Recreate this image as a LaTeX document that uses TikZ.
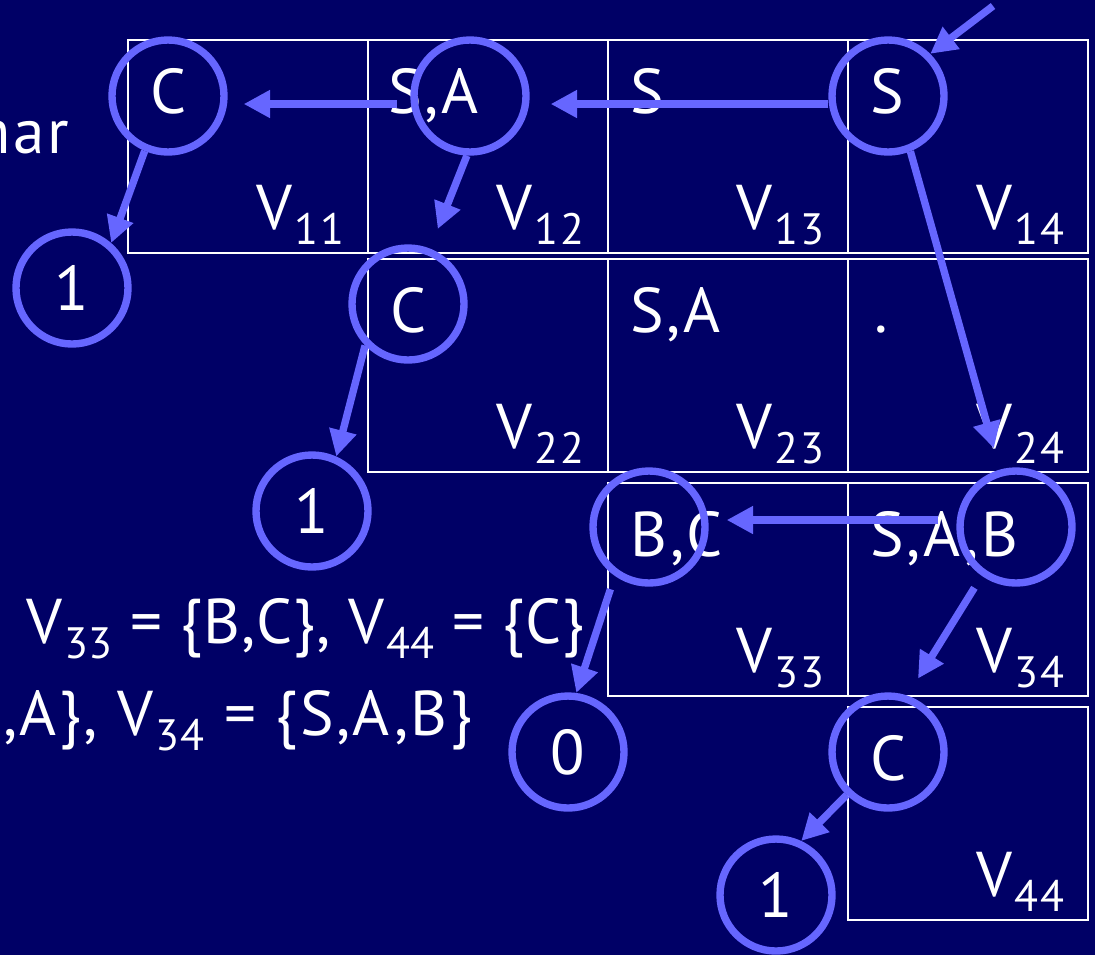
\documentclass[tikz,border=0pt]{standalone}
\usepackage{fontspec}
\setmainfont{PT Sans}[LetterSpace=4]
\usepackage{xcolor}
\usetikzlibrary{positioning,calc,arrows.meta}
\definecolor{slidenavy}{RGB}{0,0,102}
\definecolor{ringblue}{RGB}{102,102,255}
\newcommand{\Vsub}[1]{V\kern0.5pt\raisebox{-4.3pt}{\fontsize{12.5}{12.5}\selectfont #1}}

\begin{document}
\begin{tikzpicture}[>={Triangle[length=7.5pt,width=7.5pt]},
    font=\fontsize{18}{21}\selectfont,
    cell/.style={draw=white, line width=0.6pt, minimum width=2.4cm, minimum height=2.13cm, inner sep=0pt, outer sep=0pt},
    entry/.style={anchor=base west, text=white, inner sep=0pt},
    vlab/.style={anchor=base east, text=white, inner sep=0pt},
    ring/.style={circle, draw=ringblue, line width=2.1pt, minimum size=1.12cm, inner sep=0pt, text=white},
    link/.style={->, draw=ringblue, line width=2.1pt}]
    \useasboundingbox (0,0) rectangle (10.95,-9.55);
    \clip (0,0) rectangle (10.95,-9.55);
    \fill[slidenavy] (0,0) rectangle (10.95,-9.55);

    % The table of sets, one cell per V_ij
    \node[cell, anchor=north west] (v11) at (1.28,-0.40) {};
    \node[cell, right=0pt of v11] (v12) {};
    \node[cell, right=0pt of v12] (v13) {};
    \node[cell, right=0pt of v13] (v14) {};
    \node[cell, below=0.06cm of v12] (v22) {};
    \node[cell, right=0pt of v22] (v23) {};
    \node[cell, right=0pt of v23] (v24) {};
    \node[cell, below=0.11cm of v23] (v33) {};
    \node[cell, right=0pt of v33] (v34) {};
    \node[cell, below=0.11cm of v34] (v44) {};

    % Contents of the cells
    \node[entry] (t11) at ($(v11.north west)+(0.22,-0.73)$) {C};
    \node[entry] (t12) at ($(v12.north west)+(0.20,-0.73)$) {S,A};
    \node[entry] (t13) at ($(v13.north west)+(0.22,-0.73)$) {S};
    \node[entry] (t14) at ($(v14.north west)+(0.22,-0.73)$) {S};
    \node[entry] (t22) at ($(v22.north west)+(0.22,-0.73)$) {C};
    \node[entry] (t23) at ($(v23.north west)+(0.22,-0.73)$) {S,A};
    \node[entry] (t24) at ($(v24.north west)+(0.26,-0.73)$) {.};
    \node[entry] (t33) at ($(v33.north west)+(0.22,-0.73)$) {B,C};
    \node[entry] (t34) at ($(v34.north west)+(0.22,-0.73)$) {S,A,B};
    \node[entry] (t44) at ($(v44.north west)+(0.22,-0.73)$) {C};

    % Cell names, bottom right
    \node[vlab] (l11) at ($(v11.south east)+(-0.23,0.24)$) {\Vsub{11}};
    \node[vlab] (l12) at ($(v12.south east)+(-0.23,0.24)$) {\Vsub{12}};
    \node[vlab] (l13) at ($(v13.south east)+(-0.23,0.24)$) {\Vsub{13}};
    \node[vlab] (l14) at ($(v14.south east)+(-0.23,0.24)$) {\Vsub{14}};
    \node[vlab] (l22) at ($(v22.south east)+(-0.23,0.24)$) {\Vsub{22}};
    \node[vlab] (l23) at ($(v23.south east)+(-0.23,0.24)$) {\Vsub{23}};
    \node[vlab] (l24) at ($(v24.south east)+(-0.23,0.24)$) {\Vsub{24}};
    \node[vlab] (l33) at ($(v33.south east)+(-0.23,0.24)$) {\Vsub{33}};
    \node[vlab] (l34) at ($(v34.south east)+(-0.23,0.24)$) {\Vsub{34}};
    \node[vlab] (l44) at ($(v44.south east)+(-0.23,0.24)$) {\Vsub{44}};

    % Text on the left, cut by the frame
    \node[vlab] (gram) at (0.70,-1.53) {mar};
    \node[entry] (setA) at (0.26,-6.43) {\addfontfeatures{LetterSpace=1.5}\Vsub{33} = \{B,C\}, \Vsub{44} = \{C\}};
    \node[vlab] (setB) at (4.73,-7.35) {S,A\}, \Vsub{34} = \{S,A,B\}};

    % Circles of the parse tree
    \node[ring] (rC11) at (1.68,-0.96) {};
    \node[ring] (rSA12) at (4.70,-0.96) {};
    \node[ring] (rS14) at (8.88,-0.96) {};
    \node[ring] (rC22) at (4.08,-3.04) {};
    \node[ring] (rBC33) at (6.49,-5.27) {};
    \node[ring] (rSAB34) at (10.16,-5.27) {};
    \node[ring] (rC44) at (8.88,-7.52) {};
    \node[ring] (rOneA) at (0.72,-2.88) {1};
    \node[ring] (rOneB) at (3.12,-5.11) {1};
    \node[ring] (rZero) at (5.68,-7.52) {0};
    \node[ring] (rOneC) at (7.76,-8.95) {1};
    \coordinate (start) at (9.93,-0.06);

    % Edges
    \draw[link] (start) -- (rS14.45);
    \draw[link, shorten >=0.21cm] ([yshift=-0.08cm]rS14.west) -- ([yshift=-0.08cm]rSA12.east);
    \draw[link, shorten >=0.16cm] ([xshift=-0.13cm,yshift=-0.08cm]rSA12.west) -- ([yshift=-0.08cm]rC11.east);
    \draw[link] (rC11.247) -- (rOneA.49);
    \draw[link, shorten >=0.21cm] (rSA12.267) -- (rC22);
    \draw[link] (rC22.224) -- (rOneB.66);
    \draw[link, shorten >=0.22cm] (rS14.292) -- (rSAB34);
    \draw[link, shorten >=0.18cm] ([xshift=-0.18cm,yshift=0.07cm]rSAB34.west) -- ([yshift=0.07cm]rBC33.east);
    \draw[link, shorten >=0.2cm, shorten <=0.14cm] (rSAB34.235) -- (rC44.71);
    \draw[link, shorten <=0.14cm] (rBC33.235) -- (rZero.82);
    \draw[link] (rC44.226) -- (rOneC.65);
\end{tikzpicture}
\end{document}
